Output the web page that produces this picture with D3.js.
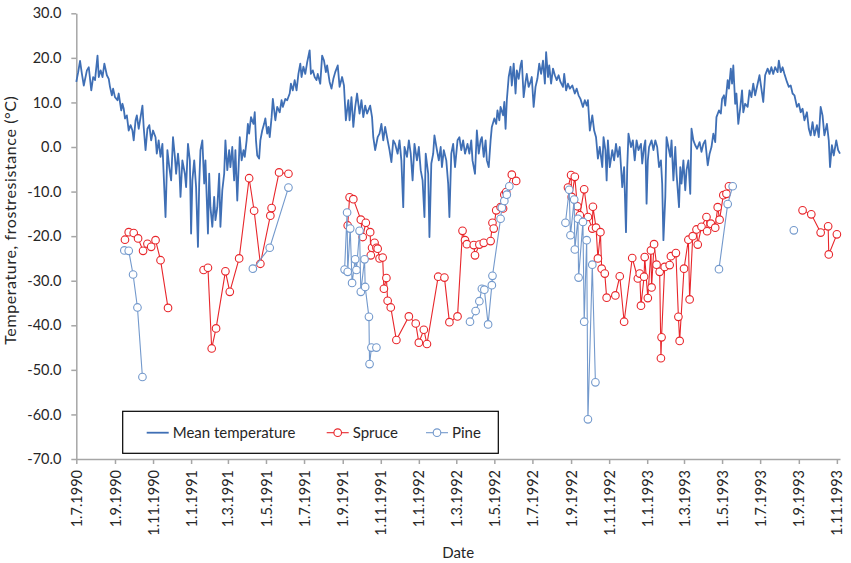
<!DOCTYPE html>
<html>
<head>
<meta charset="utf-8">
<script src="https://cdn.jsdelivr.net/npm/d3@7"></script>
<style>
  body { margin: 0; background: #fff; }
  #chart { width: 851px; height: 563px; }
  text { font-family: Lato, "Open Sans", sans-serif; fill: #262626; }
</style>
</head>
<body>
<div id="chart"></div>
<script>
// daily mean temperature: [days after tempStart, °C]
const tempStart = '1990-07-01';
const tempData = [
  [0,14.6],[3,16.8],[6,19.3],[9,16.4],[12,13.8],[17,17.2],[20,17.9],[24,12.7],[27,15.7],[30,15],
  [34,20.5],[36,15.7],[39,17.2],[42,15.7],[45,18.7],[49,16.1],[52,15.3],[54,13.5],[57,11.6],[59,13.1],
  [62,11.2],[66,10.5],[68,12],[72,8.2],[74,9.7],[76,8.6],[78,6.4],[81,7.1],[84,3.7],[87,4.9],
  [90,3.7],[92,1.5],[95,6],[97,7.1],[100,4.1],[103,6.7],[106,9.3],[108,4.5],[111,-0.7],[114,4.1],
  [117,4.9],[120,1.5],[123,3.7],[127,2.2],[129,-1.5],[132,1.5],[135,-2.2],[138,0.7],[140,-6],[143,-15.7],
  [146,-0.7],[149,-4.5],[152,-7.5],[155,2.2],[158,-2.2],[160,-6],[163,-1.5],[165,-4.5],[167,-11.2],[170,-3],
  [174,-6],[176,-9],[179,0.7],[182,-3],[184,-19.4],[186,-7.5],[189,-3],[192,-9],[195,-22.4],[197,-8.2],
  [199,-0.7],[202,1.5],[205,-8.2],[207,-3],[209,-11.2],[211,-19.4],[213,-6],[215,-13.5],[218,-17.9],[221,-11.2],
  [223,-16.4],[226,-13.5],[229,-6],[231,-17.9],[234,-9.7],[237,-6],[239,1.5],[242,-5.2],[245,-0.7],[247,-4.5],
  [250,0],[253,-7.5],[255,-0.7],[258,-12],[261,-1.5],[262,2.2],[265,-3],[268,-0.7],[270,-2.2],[273,1.5],
  [275,5.2],[277,3],[280,6.7],[284,5.2],[286,7.8],[288,1.5],[290,-1.9],[293,-2.6],[295,1.5],[298,3.7],
  [301,5.2],[303,6.4],[306,3],[308,4.5],[310,2.2],[313,6.7],[315,10.8],[319,6],[322,9],[326,7.8],
  [329,10.5],[331,9],[335,10.8],[338,10.5],[342,12],[344,14.2],[347,12.7],[350,15],[353,12.7],[356,16.4],
  [359,18.7],[361,15.7],[364,18],[367,16.4],[370,19],[374,21.7],[376,16.4],[379,17.2],[382,15.7],[385,15],
  [387,16.4],[391,14.2],[394,20.5],[397,19.4],[400,16.8],[402,18.3],[406,14.6],[409,13.1],[412,15.3],[415,16.8],
  [419,18.3],[422,13.5],[426,15.7],[429,13.8],[432,6],[436,10.5],[438,6],[441,11.2],[444,4.5],[447,9],
  [450,12],[454,7.5],[457,10.5],[460,6.7],[463,9.3],[466,7.5],[471,9.3],[474,6.7],[476,2.2],[479,-0.7],
  [483,2.2],[486,3],[489,5.2],[492,1.5],[495,4.5],[499,1.5],[502,-0.7],[505,-3.4],[508,1.5],[511,0.7],
  [515,-1.5],[518,1.5],[521,-3],[524,-13.5],[526,0],[530,-2.2],[533,1.5],[536,-1.5],[539,-7.5],[542,0.7],
  [546,-3],[549,0],[552,-5.2],[555,-7.5],[558,-15.7],[560,-1.5],[564,-6],[566,-20.2],[569,-3.7],[572,-1.5],
  [574,2.6],[578,-0.7],[581,-3],[584,0],[586,-4.5],[589,-0.7],[593,-3],[596,-8.2],[598,-15.7],[601,-1.5],
  [604,0.7],[607,-4.5],[611,1.5],[614,2.2],[617,-0.7],[620,1.5],[623,-1.5],[627,0.7],[630,-1.5],[633,1.5],
  [635,-3],[639,-6],[642,3.7],[645,-1.5],[648,1.5],[650,2.2],[653,-2.2],[656,1.5],[658,-3],[661,-4.5],
  [664,1.5],[666,4.5],[670,6.4],[673,5.2],[675,8.2],[678,6],[680,9],[684,7.1],[686,10.1],[688,4.1],
  [690,10.5],[693,15.7],[696,18],[698,13.8],[701,18.7],[704,12],[706,17.2],[709,15.3],[712,18.3],[714,19.4],
  [717,11.2],[720,14.6],[722,16.4],[725,13.5],[728,14.6],[730,15.7],[733,9],[736,13.5],[739,15.3],[742,18.7],
  [745,16.4],[748,19.4],[751,14.2],[753,21.3],[756,15.7],[758,18.3],[761,14.2],[764,17.6],[767,16.1],[770,15],
  [773,16.1],[776,14.6],[780,13.5],[782,16.4],[785,12.7],[788,14.2],[791,13.1],[795,13.8],[799,12],[802,13.1],
  [805,11.6],[808,10.8],[812,9],[815,10.5],[818,9.3],[820,10.5],[823,3.7],[827,7.1],[830,3.7],[833,2.2],
  [836,-2.6],[839,0],[843,-4.5],[845,2.2],[848,-0.7],[850,-7.5],[852,1.5],[855,-4.5],[859,-0.7],[862,-3],
  [865,0.7],[868,-2.2],[871,0],[875,-9],[878,-4.5],[881,-19.1],[883,-4.5],[885,3],[889,0],[892,1.5],
  [895,-3],[898,1.5],[901,-0.7],[905,0.7],[907,-3.7],[910,0],[912,1.5],[914,-12.7],[916,-3],[918,0],
  [922,1.5],[925,-0.7],[928,1.5],[931,0],[934,-4.5],[937,-3],[939,-8.2],[941,-20.9],[944,-11.2],[946,2.2],
  [949,0],[952,-2.2],[954,1.5],[957,-7.5],[960,0],[962,-6],[966,-13.5],[968,-4.5],[970,-8.2],[973,-3],
  [976,-9.7],[978,-5.2],[981,-3],[984,-10.5],[986,4.1],[989,1.5],[992,0.4],[995,-0.4],[999,1.1],[1002,-1.1],
  [1005,0.7],[1008,1.5],[1012,-4.1],[1015,-1.5],[1018,0],[1021,3],[1024,1.1],[1026,6.7],[1030,8.2],[1033,7.5],
  [1035,10.8],[1038,11.6],[1040,9.3],[1044,15],[1046,13.1],[1049,17.6],[1051,14.2],[1053,18.3],[1056,9.7],[1058,12],
  [1061,5.2],[1064,8.6],[1067,12.7],[1069,7.8],[1072,9.7],[1076,9],[1079,12.7],[1082,11.2],[1085,14.2],[1088,11.6],
  [1092,14.2],[1095,16.1],[1098,13.1],[1101,10.1],[1104,16.1],[1108,17.6],[1111,16.4],[1114,17.9],[1117,16.4],[1120,17.9],
  [1124,16.8],[1126,19.4],[1129,16.8],[1132,17.9],[1135,16.4],[1139,14.6],[1142,13.5],[1145,13.8],[1148,12],[1151,11.6],
  [1155,9],[1158,9.7],[1161,7.8],[1164,8.6],[1167,6],[1171,7.8],[1174,4.1],[1177,2.6],[1180,5.6],[1183,2.6],
  [1187,4.9],[1190,2.2],[1193,9],[1196,7.1],[1199,2.6],[1203,5.2],[1206,1.5],[1208,-4.5],[1211,0.4],[1214,-1.9],
  [1218,1.5],[1221,-0.7],[1224,-1.5]
];

// frost resistance, null = break in the series
const spruceData = [
  ['1990-09-17',-20.8],['1990-09-23',-19.1],['1990-10-01',-19.3],['1990-10-08',-20.5],['1990-10-16',-23.3],
  ['1990-10-23',-21.7],['1990-10-29',-22.4],['1990-11-05',-20.9],['1990-11-13',-25.4],['1990-11-25',-36.1],
  null,
  ['1991-01-21',-27.6],['1991-01-28',-27.1],['1991-02-03',-45.2],['1991-02-10',-40.7],['1991-02-25',-27.9],
  ['1991-03-04',-32.5],['1991-03-19',-25.0],['1991-04-04',-7.0],['1991-04-12',-14.3],['1991-04-22',-26.2],
  ['1991-05-08',-15.4],['1991-05-10',-13.7],['1991-05-22',-5.7],['1991-06-06',-6.0],
  null,
  ['1991-09-09',-17.6],['1991-09-12',-11.3],['1991-09-18',-11.7],['1991-09-30',-16.3],['1991-10-03',-20.2],
  ['1991-10-08',-17.0],['1991-10-15',-19.1],['1991-10-16',-24.3],['1991-10-18',-22.6],['1991-10-22',-21.5],
  ['1991-10-25',-22.6],['1991-10-27',-22.8],['1991-10-30',-25.0],['1991-11-04',-24.8],['1991-11-06',-31.8],
  ['1991-11-10',-29.4],['1991-11-12',-34.5],['1991-11-17',-36.0],['1991-11-26',-43.3],['1991-12-16',-38.0],
  ['1991-12-27',-39.6],['1992-01-01',-43.9],['1992-01-09',-41.0],['1992-01-14',-44.2],['1992-02-01',-29.1],
  ['1992-02-11',-29.3],['1992-02-19',-39.3],['1992-03-03',-38.0],['1992-03-11',-18.8],['1992-03-15',-20.9],
  ['1992-03-18',-21.8],['1992-03-29',-22.0],['1992-03-31',-24.3],['1992-04-07',-21.9],['1992-04-14',-21.5],
  ['1992-04-25',-21.1],['1992-04-28',-17.0],['1992-04-30',-18.3],['1992-05-04',-14.2],['1992-05-11',-13.5],
  ['1992-05-15',-13.8],['1992-05-17',-10.7],['1992-05-20',-10.1],['1992-05-29',-6.2],['1992-06-05',-7.6],
  null,
  ['1992-08-27',-9.1],['1992-09-01',-6.3],['1992-09-02',-11.2],['1992-09-07',-6.7],['1992-09-11',-13.3],
  ['1992-09-15',-15.3],['1992-09-22',-9.5],['1992-09-28',-15.7],['1992-10-05',-18.3],['1992-10-06',-13.4],
  ['1992-10-11',-18.1],['1992-10-14',-25.0],['1992-10-18',-19.1],['1992-10-20',-27.3],['1992-10-25',-28.4],
  ['1992-10-28',-33.8],['1992-11-11',-33.3],['1992-11-18',-29.0],['1992-11-25',-39.2],['1992-12-08',-24.9],
  ['1992-12-17',-29.5],['1992-12-20',-28.4],['1992-12-22',-35.6],['1992-12-27',-29.1],['1992-12-28',-24.7],
  ['1993-01-02',-33.9],['1993-01-07',-23.2],['1993-01-08',-31.5],['1993-01-12',-21.8],['1993-01-16',-26.4],
  ['1993-01-21',-28.0],['1993-01-23',-47.4],['1993-01-24',-42.7],['1993-01-29',-26.9],['1993-02-06',-26.5],
  ['1993-02-08',-24.5],['1993-02-16',-23.8],['1993-02-20',-38.1],['1993-02-22',-43.5],['1993-03-01',-27.3],
  ['1993-03-08',-20.8],['1993-03-10',-34.2],['1993-03-15',-20.0],['1993-03-21',-18.5],['1993-03-23',-21.9],
  ['1993-03-29',-17.9],['1993-04-06',-15.7],['1993-04-07',-18.9],['1993-04-13',-17.2],['1993-04-20',-18.1],
  ['1993-04-24',-13.5],['1993-04-27',-16.3],['1993-05-03',-10.8],['1993-05-08',-10.5],['1993-05-12',-8.8],
  null,
  ['1993-09-07',-14.2],['1993-09-21',-15.1],['1993-10-06',-19.2],['1993-10-18',-17.8],['1993-10-19',-24.1],
  ['1993-11-01',-19.6]
];

const pineData = [
  ['1990-09-16',-23.2],['1990-09-23',-23.3],['1990-09-30',-28.6],['1990-10-07',-36.0],['1990-10-15',-51.6],
  null,
  ['1991-04-10',-27.3],['1991-05-07',-22.6],['1991-06-06',-9.1],
  null,
  ['1991-09-04',-27.5],['1991-09-08',-14.7],['1991-09-09',-28.0],['1991-09-13',-18.3],['1991-09-16',-30.5],
  ['1991-09-21',-25.2],['1991-09-23',-27.6],['1991-09-28',-18.8],['1991-09-30',-32.5],['1991-10-06',-25.2],
  ['1991-10-07',-31.4],['1991-10-13',-38.1],['1991-10-14',-48.7],['1991-10-17',-45.0],['1991-10-25',-45.0],
  null,
  ['1992-03-23',-39.2],['1992-04-01',-36.8],['1992-04-07',-34.6],['1992-04-11',-31.8],['1992-04-15',-32.0],
  ['1992-04-21',-39.8],['1992-04-27',-31.0],['1992-04-28',-28.9],['1992-05-11',-16.1],['1992-05-13',-13.6],
  ['1992-05-17',-12.1],['1992-05-21',-10.7],['1992-05-25',-8.8],
  null,
  ['1992-08-23',-17.0],['1992-08-29',-9.6],['1992-08-31',-19.8],['1992-09-06',-11.8],['1992-09-07',-23.0],
  ['1992-09-12',-16.1],['1992-09-13',-29.3],['1992-09-20',-16.8],['1992-09-22',-39.2],['1992-09-26',-20.9],
  ['1992-09-28',-61.1],['1992-10-05',-26.4],['1992-10-10',-52.8],
  null,
  ['1993-04-26',-27.4],['1993-05-10',-12.8],['1993-05-18',-8.8],
  null,
  ['1993-08-24',-18.7]
];

const seriesNames = ['Mean temperature', 'Spruce', 'Pine'];
const yTicks = [-70, -60, -50, -40, -30, -20, -10, 0, 10, 20, 30];
const xDomain = ['1990-07-01', '1993-11-06'];
const xLabel = 'Date';
const yLabel = 'Temperature, frostresistance (°C)';

class FrostChart {

    constructor(_config) {
        this.config = {
            parentElement: _config.parentElement,
            width: 851,
            height: 563,
            margin: { top: 13.3, right: 11, bottom: 104, left: 76.3 }
        }
        this.colors = { temp: '#3f6fb5', spruce: '#e8262b', pine: '#7399cc' };
        this.initVis();
    }

    initVis() {
        let vis = this;
        const m = vis.config.margin;
        const parse = d3.timeParse('%Y-%m-%d');

        vis.svg = d3.select(vis.config.parentElement).append('svg')
            .attr('width', vis.config.width)
            .attr('height', vis.config.height);

        vis.x = d3.scaleTime()
            .domain(xDomain.map(parse))
            .range([m.left, vis.config.width - m.right]);

        vis.y = d3.scaleLinear()
            .domain([-70, 30])
            .range([vis.config.height - m.bottom, m.top]);

        const start = parse(tempStart);
        vis.temp = tempData.map(d => ({ date: d3.timeDay.offset(start, d[0]), value: d[1] }));
        const toPts = arr => arr.map(d => d ? { date: parse(d[0]), value: d[1] } : null);
        vis.spruce = toPts(spruceData);
        vis.pine = toPts(pineData);

        vis.updateVis();
    }

    updateVis() {
        let vis = this;
        const y0 = vis.y(-70);

        // axes
        const xTicks = d3.timeMonth.every(2).range(vis.x.domain()[0], vis.x.domain()[1]);
        const fmt = d => `${d.getDate()}.${d.getMonth() + 1}.${d.getFullYear()}`;

        const xAxisG = vis.svg.append('g')
            .attr('class', 'x-axis')
            .attr('transform', `translate(0,${y0})`)
            .call(d3.axisBottom(vis.x).tickValues(xTicks).tickFormat(fmt).tickSize(5).tickSizeOuter(0));
        xAxisG.selectAll('text')
            .attr('transform', 'rotate(-90)')
            .attr('x', -11).attr('y', 0).attr('dy', '0.35em')
            .attr('text-anchor', 'end')
            .style('font-size', '14.5px');

        const yAxisG = vis.svg.append('g')
            .attr('class', 'y-axis')
            .attr('transform', `translate(${vis.x.range()[0]},0)`)
            .call(d3.axisLeft(vis.y).tickValues(yTicks).tickFormat(d => d.toFixed(1)).tickSize(5).tickSizeOuter(0).tickPadding(10));
        yAxisG.selectAll('text').style('font-size', '14.5px');

        vis.svg.selectAll('.x-axis path, .x-axis line, .y-axis path, .y-axis line')
            .attr('stroke', '#a6a6a6').attr('stroke-width', 1.5);
        vis.svg.selectAll('.x-axis text, .y-axis text').attr('fill', '#262626');

        vis.svg.append('text')
            .attr('x', (vis.x.range()[0] + vis.x.range()[1]) / 2)
            .attr('y', 558)
            .attr('text-anchor', 'middle')
            .style('font-size', '15px')
            .text(xLabel);

        vis.svg.append('text')
            .attr('transform', `translate(16,${(vis.y.range()[0] + vis.y.range()[1]) / 2 - 16}) rotate(-90)`)
            .attr('text-anchor', 'middle')
            .style('font-size', '16px')
            .style('letter-spacing', '0.6px')
            .text(yLabel);

        // series
        const line = d3.line()
            .defined(d => d !== null)
            .x(d => vis.x(d.date))
            .y(d => vis.y(d.value));

        vis.svg.append('path')
            .datum(vis.temp)
            .attr('fill', 'none')
            .attr('stroke', vis.colors.temp)
            .attr('stroke-width', 1.8)
            .attr('stroke-linejoin', 'round')
            .attr('d', line);

        [['spruce', vis.spruce], ['pine', vis.pine]].forEach(([key, data]) => {
            vis.svg.append('path')
                .datum(data)
                .attr('fill', 'none')
                .attr('stroke', vis.colors[key])
                .attr('stroke-width', 1.1)
                .attr('d', line);

            vis.svg.selectAll(`.pt-${key}`)
                .data(data.filter(d => d !== null))
                .join('circle')
                .attr('class', `pt-${key}`)
                .attr('cx', d => vis.x(d.date))
                .attr('cy', d => vis.y(d.value))
                .attr('r', 3.8)
                .attr('fill', '#fff')
                .attr('stroke', vis.colors[key])
                .attr('stroke-width', 1.1);
        });

        // legend
        const lg = vis.svg.append('g').attr('class', 'legend');
        lg.append('rect')
            .attr('x', 122.7).attr('y', 411.3)
            .attr('width', 375.6).attr('height', 42)
            .attr('fill', '#fff')
            .attr('stroke', '#000')
            .attr('stroke-width', 1.2);

        const items = [
            { name: seriesNames[0], color: vis.colors.temp, x: 146.7, marker: false, w: 1.8 },
            { name: seriesNames[1], color: vis.colors.spruce, x: 326.7, marker: true, w: 1.1 },
            { name: seriesNames[2], color: vis.colors.pine, x: 426, marker: true, w: 1.1 }
        ];
        const ly = 432.7;
        items.forEach(it => {
            lg.append('line')
                .attr('x1', it.x).attr('x2', it.x + 22)
                .attr('y1', ly).attr('y2', ly)
                .attr('stroke', it.color).attr('stroke-width', it.w);
            if (it.marker) {
                lg.append('circle')
                    .attr('cx', it.x + 11).attr('cy', ly).attr('r', 3.8)
                    .attr('fill', '#fff').attr('stroke', it.color).attr('stroke-width', 1.1);
            }
            lg.append('text')
                .attr('x', it.x + 26).attr('y', ly)
                .attr('dy', '0.35em')
                .style('font-size', '15px')
                .text(it.name);
        });
    }
}

new FrostChart({ parentElement: '#chart' });
</script>
</body>
</html>
